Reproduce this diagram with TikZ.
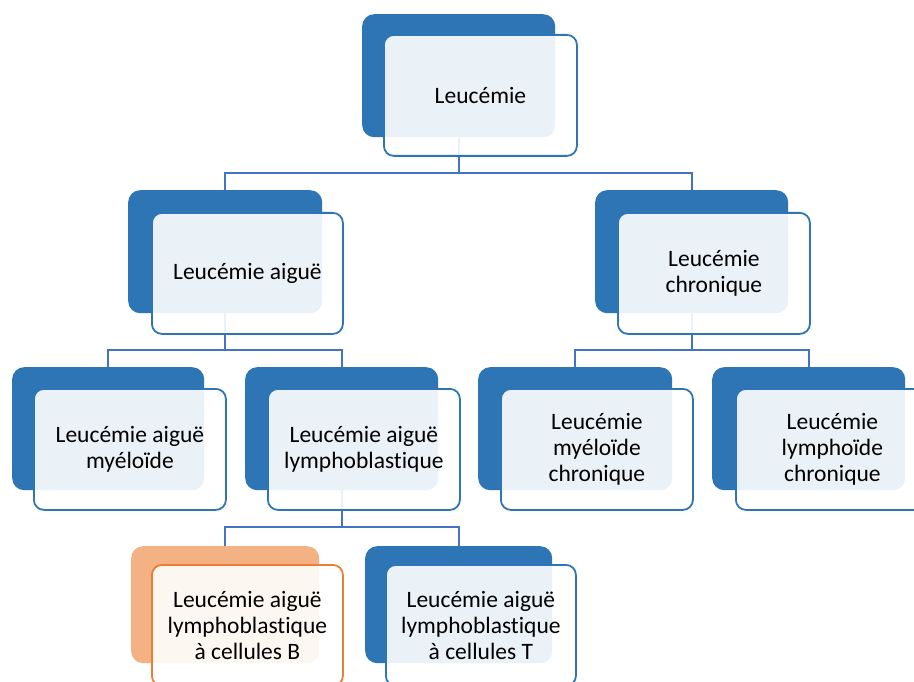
\documentclass[tikz,border=0pt]{standalone}
\usepackage{fontspec}
\setmainfont{Carlito}[Ligatures=NoCommon]
\usetikzlibrary{calc}
\pgfdeclarelayer{bg}
\pgfsetlayers{bg,main}
\definecolor{darkblue}{HTML}{2E75B6}
\definecolor{linkblue}{HTML}{4472C4}
\definecolor{lightorange}{HTML}{F4B183}
\definecolor{strongorange}{HTML}{ED7D31}
\tikzset{
  backbox/.style={fill=darkblue, draw=none, rounded corners=12pt, anchor=north west, inner sep=0pt},
  frontbox/.style={draw=darkblue, line width=1.8pt, fill=white, fill opacity=0.9, text opacity=1,
    rounded corners=10pt, anchor=north west, align=center, inner sep=0pt,
    font=\fontsize{23.5}{26}\selectfont},
  backorange/.style={backbox, fill=lightorange},
  frontorange/.style={frontbox, draw=strongorange},
  conn/.style={draw=linkblue, line width=2pt}
}
\begin{document}
\begin{tikzpicture}[x=1pt,y=-1pt]
\useasboundingbox (0,0) rectangle (914,682);
\clip (0,0) rectangle (914,682);
% level 1
\node[backbox, minimum width=193pt, minimum height=123pt] (lb) at (362,14) {};
\node[frontbox, minimum width=193pt, minimum height=121pt] (l) at (383,34) {Leucémie};
% level 2
\node[backbox, minimum width=194pt, minimum height=123pt] (ab) at (128,190) {};
\node[frontbox, minimum width=191pt, minimum height=121pt] (a) at (151,212) {Leucémie aiguë};
\node[backbox, minimum width=193pt, minimum height=123pt] (cb) at (595,190) {};
\node[frontbox, minimum width=192pt, minimum height=121pt] (c) at (617,212) {Leucémie\\chronique};
% level 3
\node[backbox, minimum width=192pt, minimum height=123pt] (amb) at (12,367) {};
\node[frontbox, minimum width=192pt, minimum height=121pt] (am) at (33,388) {Leucémie aiguë\\myéloïde};
\node[backbox, minimum width=193pt, minimum height=123pt] (alb) at (245,367) {};
\node[frontbox, minimum width=192pt, minimum height=121pt] (al) at (267,388) {Leucémie aiguë\\lymphoblastique};
\node[backbox, minimum width=194pt, minimum height=123pt] (cmb) at (478,367) {};
\node[frontbox, minimum width=192pt, minimum height=121pt] (cm) at (500,388) {Leucémie\\myéloïde\\chronique};
\node[backbox, minimum width=193pt, minimum height=123pt] (clb) at (712,367) {};
\node[frontbox, minimum width=193pt, minimum height=121pt] (cl) at (735,388) {Leucémie\\lymphoïde\\chronique};
% level 4
\node[backorange, minimum width=188pt, minimum height=117pt] (bbb) at (131,546) {};
\node[frontorange, minimum width=191pt, minimum height=121pt] (bb) at (151,564) {Leucémie aiguë\\lymphoblastique\\à cellules B};
\node[backbox, minimum width=187pt, minimum height=117pt] (btb) at (365,546) {};
\node[frontbox, minimum width=190pt, minimum height=121pt] (bt) at (385,564) {Leucémie aiguë\\lymphoblastique\\à cellules T};
% bars
\coordinate (bar0) at (0,173);
\coordinate (bar1) at (0,350);
\coordinate (bar2) at (0,527);
\begin{pgfonlayer}{bg}
\fill[white] (0,0) rectangle (914,682);
\draw[conn] (lb.south) -- (lb.south |- bar0) -| (ab.north);
\draw[conn] (lb.south) -- (lb.south |- bar0) -| (cb.north);
\draw[conn] (ab.south) -- (ab.south |- bar1) -| (amb.north);
\draw[conn] (ab.south) -- (ab.south |- bar1) -| (alb.north);
\draw[conn] (cb.south) -- (cb.south |- bar1) -| (cmb.north);
\draw[conn] (cb.south) -- (cb.south |- bar1) -| (clb.north);
\draw[conn] (alb.south) -- (alb.south |- bar2) -| (bbb.north);
\draw[conn] (alb.south) -- (alb.south |- bar2) -| (btb.north);
\end{pgfonlayer}
\end{tikzpicture}
\end{document}
